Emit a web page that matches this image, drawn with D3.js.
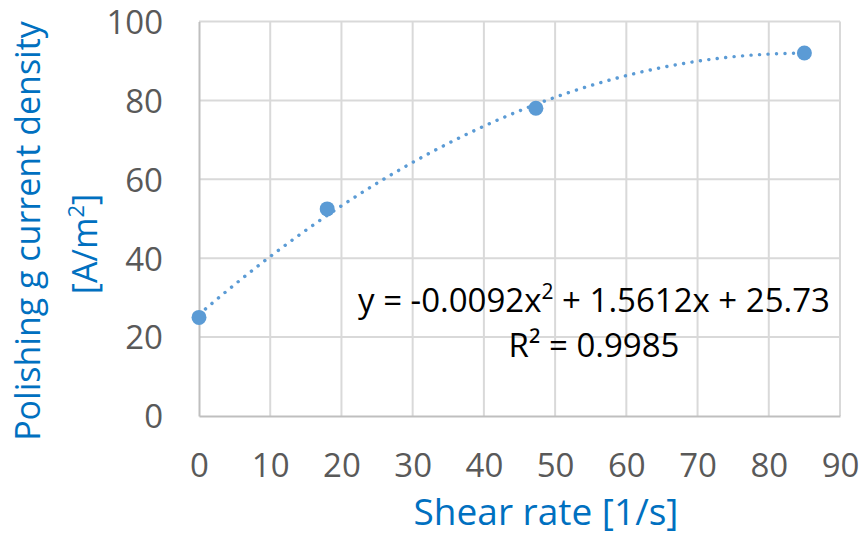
<!DOCTYPE html>
<meta charset="utf-8">
<script src="https://d3js.org/d3.v7.min.js"></script>
<style>
  body { margin: 0; background: #fff; }
  text { font-family: "Open Sans", sans-serif; }
</style>
<div id="chart"></div>
<script>

// data
var shearRate = [0, 18, 47.3, 85];
var currentDensity = [25, 52.5, 78, 92];
// trendline coefficients as printed on the chart (a x^2 + b x + c)
var trendCoef = [-0.0092, 1.5612, 25.73];
var xTicks = [0, 10, 20, 30, 40, 50, 60, 70, 80, 90];
var yTicks = [0, 20, 40, 60, 80, 100];

var W = 864, H = 539;
var margin = {top: 21.5, right: 24, bottom: 123, left: 199},
    width = W - margin.left - margin.right,
    height = H - margin.top - margin.bottom;

var svg = d3.select("#chart")
  .append("svg")
    .attr("width", W)
    .attr("height", H);

var g = svg.append("g")
    .attr("transform", "translate(" + margin.left + "," + margin.top + ")");

var x = d3.scaleLinear().domain([0, 90]).range([0, width]);
var y = d3.scaleLinear().domain([0, 100]).range([height, 0]);

// gridlines
g.append("g")
  .selectAll("line.vg")
  .data(xTicks.slice(1))
  .enter().append("line")
    .attr("x1", function(d) { return x(d); })
    .attr("x2", function(d) { return x(d); })
    .attr("y1", 0).attr("y2", height)
    .style("stroke", "#d9d9d9")
    .style("stroke-width", 2);

g.append("g")
  .selectAll("line.hg")
  .data(yTicks.slice(1))
  .enter().append("line")
    .attr("x1", 0).attr("x2", width)
    .attr("y1", function(d) { return y(d); })
    .attr("y2", function(d) { return y(d); })
    .style("stroke", "#d9d9d9")
    .style("stroke-width", 2);

// axes
var xAxis = g.append("g")
  .attr("transform", "translate(0," + height + ")")
  .call(d3.axisBottom(x).tickValues(xTicks).tickSize(0).tickPadding(37));
var yAxis = g.append("g")
  .call(d3.axisLeft(y).tickValues(yTicks).tickSize(0).tickPadding(36));

[xAxis, yAxis].forEach(function(a) {
  a.select(".domain").style("stroke", "#bfbfbf").style("stroke-width", 2);
  a.selectAll("text")
    .style("font-family", "'Open Sans', sans-serif")
    .style("font-size", "33px")
    .style("fill", "#595959");
});
xAxis.selectAll("text").attr("dy", "0.72em");
yAxis.selectAll("text").attr("dy", "0.36em");

// trendline
var fx = d3.range(0, 85.01, 0.5);
var line = d3.line()
  .x(function(d) { return x(d); })
  .y(function(d) { return y(trendCoef[0] * d * d + trendCoef[1] * d + trendCoef[2]); });

g.append("path")
  .datum(fx)
  .attr("d", line)
  .style("fill", "none")
  .style("stroke", "#5b9bd5")
  .style("stroke-width", 3.4)
  .style("stroke-linecap", "round")
  .style("stroke-dasharray", "0.1 8.4");

// points
g.append("g")
  .selectAll("circle")
  .data(shearRate)
  .enter().append("circle")
    .attr("cx", function(d) { return x(d); })
    .attr("cy", function(d, i) { return y(currentDensity[i]); })
    .attr("r", 7.5)
    .style("fill", "#5b9bd5");

// equation label
var eq = g.append("text")
  .attr("x", 395)
  .attr("y", 290.5)
  .attr("text-anchor", "middle")
  .style("font-size", "33px")
  .style("fill", "#000");
eq.append("tspan").text("y = -0.0092x");
eq.append("tspan").attr("dy", -13).style("font-size", "21px").text("2");
eq.append("tspan").attr("dy", 13).text(" + 1.5612x + 25.73");

g.append("text")
  .attr("x", 395)
  .attr("y", 335.5)
  .attr("text-anchor", "middle")
  .style("font-size", "33px")
  .style("fill", "#000")
  .text("R² = 0.9985");

// axis titles
svg.append("text")
  .attr("x", 546)
  .attr("y", 525)
  .attr("text-anchor", "middle")
  .style("font-size", "37px")
  .style("fill", "#0070c0")
  .text("Shear rate [1/s]");

svg.append("text")
  .attr("transform", "translate(40,231) rotate(-90)")
  .attr("text-anchor", "middle")
  .style("font-size", "34px")
  .style("fill", "#0070c0")
  .text("Polishing g current density");

var t2 = svg.append("text")
  .attr("transform", "translate(97,244) rotate(-90)")
  .attr("text-anchor", "middle")
  .style("font-size", "34px")
  .style("fill", "#0070c0");
t2.append("tspan").text("[A/m");
t2.append("tspan").attr("dy", -13).style("font-size", "22px").text("2");
t2.append("tspan").attr("dy", 13).text("]");

</script>
